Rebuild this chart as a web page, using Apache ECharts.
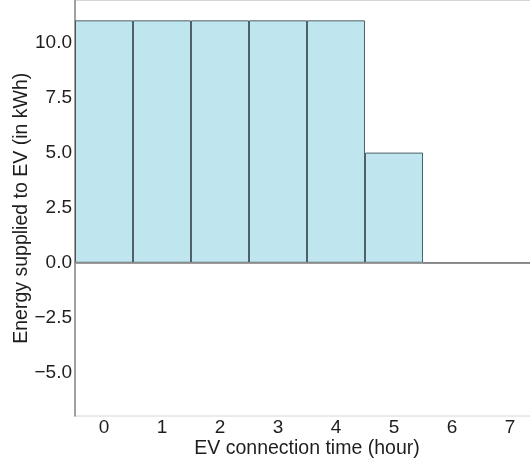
<!DOCTYPE html>
<html>
<head>
<meta charset="utf-8">
<script src="https://cdn.jsdelivr.net/npm/echarts@6/dist/echarts.min.js"></script>
<style>
  html, body { margin: 0; padding: 0; background: #fff; overflow: hidden; }
  #chart { width: 540px; height: 461px; }
</style>
</head>
<body>
<div id="chart"></div>
<script>
// Hourly energy delivered to the EV while connected
const hours = ['0', '1', '2', '3', '4', '5', '6', '7'];
const energyKWh = [11, 11, 11, 11, 11, 5, 0, 0];
const yTicks = [-5, -2.5, 0, 2.5, 5, 7.5, 10];

const chart = echarts.init(document.getElementById('chart'), null, { renderer: 'canvas' });
const font = 'Liberation Sans, Arial, sans-serif';

chart.setOption({
  animation: false,
  grid: {
    left: 75, top: 0.5, bottom: 45, right: 1,
    outerBoundsMode: 'none', containLabel: false,
    show: true, borderColor: '#d6d6d6', borderWidth: 1
  },
  xAxis: {
    type: 'category',
    data: hours,
    boundaryGap: true,
    name: 'EV connection time (hour)',
    nameLocation: 'middle',
    nameGap: 23,
    nameMoveOverlap: false,
    nameTextStyle: { fontFamily: font, fontSize: 19.5, color: '#1e1e1e' },
    axisLine: { lineStyle: { color: '#888', width: 1.5 } },
    axisTick: { show: false },
    axisLabel: { fontFamily: font, fontSize: 19, color: '#1e1e1e', margin: 2 },
    splitLine: { show: false }
  },
  yAxis: {
    type: 'value',
    min: -6.95,
    max: 11.9,
    name: 'Energy supplied to EV (in kWh)',
    nameLocation: 'middle',
    nameGap: 43,
    nameMoveOverlap: false,
    nameTextStyle: { fontFamily: font, fontSize: 19.5, color: '#1e1e1e' },
    axisLine: { show: true, onZero: false, lineStyle: { color: '#888', width: 1.5 } },
    axisTick: { show: false },
    axisLabel: {
      fontFamily: font, fontSize: 19, color: '#1e1e1e', margin: 3,
      customValues: yTicks,
      formatter: v => v.toFixed(1).replace('-', '\u2212')
    },
    splitLine: { show: false }
  },
  series: [{
    type: 'bar',
    data: energyKWh,
    barCategoryGap: 0,
    barWidth: '100%',
    itemStyle: { color: '#bfe5ef', borderColor: 'rgba(45,60,70,0.8)', borderWidth: 1 },
    markLine: {
      silent: true,
      symbol: 'none',
      label: { show: false },
      lineStyle: { color: '#999', type: 'solid', width: 1.5 },
      data: [{ yAxis: 0 }]
    }
  }]
});
</script>
</body>
</html>
